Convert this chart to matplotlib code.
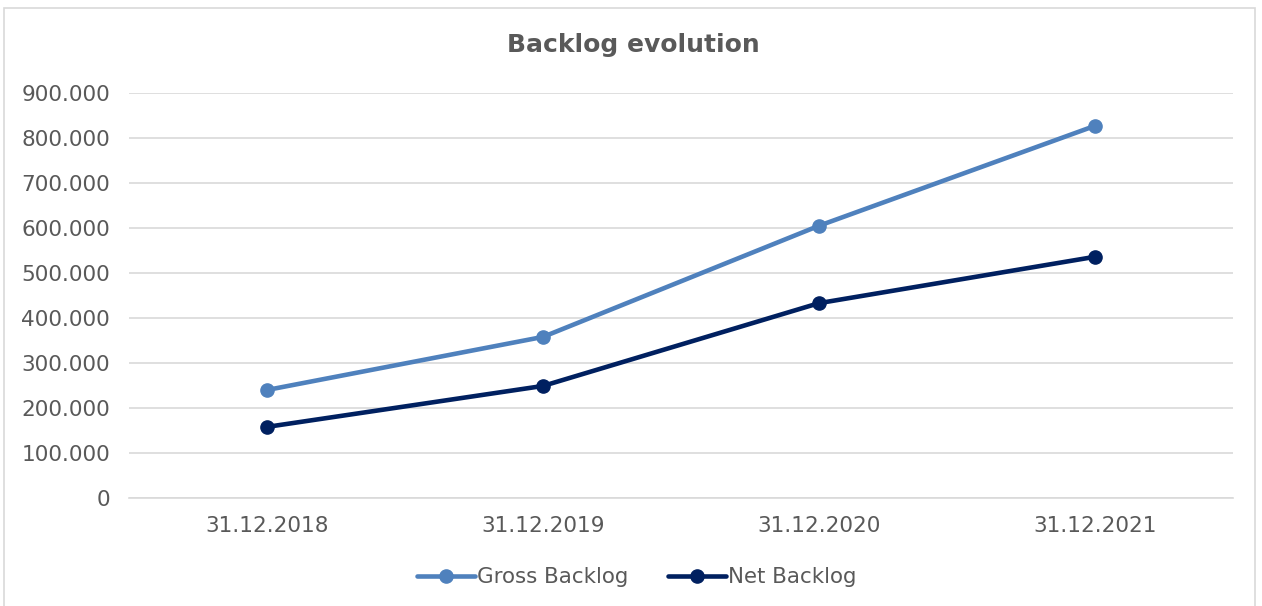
import matplotlib
matplotlib.use("Agg")
import matplotlib.pyplot as plt
from matplotlib.patches import Rectangle
from matplotlib.ticker import FuncFormatter

categories = ["31.12.2018", "31.12.2019", "31.12.2020", "31.12.2021"]
gross_backlog = [240000, 358000, 605000, 827000]
net_backlog = [158000, 249000, 433000, 536000]

W, H = 1262, 606
fig = plt.figure(figsize=(W / 100, H / 100), dpi=100)
fig.patch.set_facecolor("white")
fig.patches.append(Rectangle((4 / W, -0.02), (1255 - 4) / W, 1.02 - 8 / H, transform=fig.transFigure,
                             fill=False, edgecolor="#D9D9D9", linewidth=1.2))

ax = fig.add_axes([129 / W, 1 - 498 / H, (1233 - 129) / W, (498 - 93) / H])
text_color = "#595959"

x = list(range(len(categories)))
ax.plot(x, gross_backlog, color="#4F81BD", lw=3.3, marker="o", ms=9.5, label="Gross Backlog",
        solid_capstyle="round", zorder=3)
ax.plot(x, net_backlog, color="#002060", lw=3.3, marker="o", ms=9.5, label="Net Backlog",
        solid_capstyle="round", zorder=3)

ax.set_xlim(-0.5, 3.5)
ax.set_ylim(0, 900000)
ax.set_yticks(range(0, 900001, 100000))
ax.yaxis.set_major_formatter(FuncFormatter(lambda v, p: f"{int(v):,}".replace(",", ".")))
ax.set_xticks(x)
ax.set_xticklabels(categories)
ax.grid(axis="y", color="#D9D9D9", lw=1.2)
ax.set_axisbelow(True)
for s in ["top", "right", "left"]:
    ax.spines[s].set_visible(False)
ax.spines["bottom"].set_color("#D9D9D9")
ax.spines["bottom"].set_linewidth(1.2)
ax.tick_params(axis="both", length=0, colors=text_color, labelsize=15.6)
ax.tick_params(axis="y", pad=13.5)
ax.tick_params(axis="x", pad=13)

fig.text(633 / W, 1 - 45 / H, "Backlog evolution", ha="center", va="center",
         fontsize=18, fontweight="bold", color=text_color)

leg = fig.legend(loc="center", bbox_to_anchor=(637 / W, 1 - 577 / H), ncol=2, frameon=False,
                 fontsize=15.4, handlelength=2.7, handletextpad=0.1, columnspacing=1.85,
                 labelcolor=text_color)

fig.savefig("out.png", dpi=100)
